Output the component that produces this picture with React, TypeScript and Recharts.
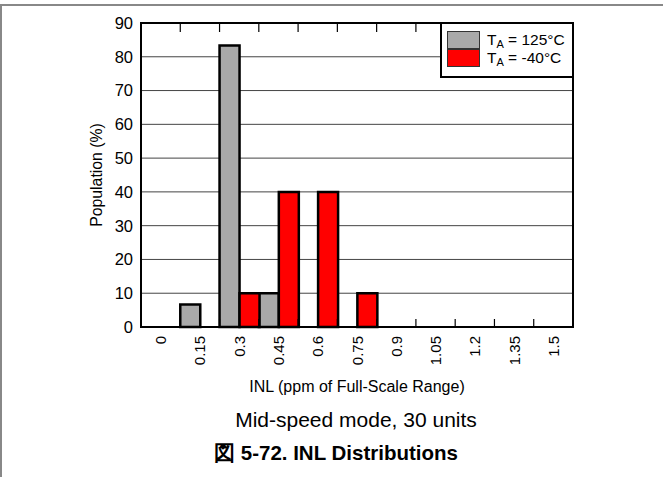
import { BarChart, Bar, XAxis, YAxis, CartesianGrid } from "recharts";

const bins = ["0", "0.15", "0.3", "0.45", "0.6", "0.75", "0.9", "1.05", "1.2", "1.35", "1.5"];
const hot125 = [0, 6.67, 83.33, 10, 0, 0, 0, 0, 0, 0, 0];
const cold40 = [0, 0, 10, 40, 40, 10, 0, 0, 0, 0, 0];
const yTicks = [0, 10, 20, 30, 40, 50, 60, 70, 80, 90];

const data = bins.map((bin, i) => ({ bin, hot: hot125[i], cold: cold40[i] }));

const font = "'Liberation Sans', Arial, sans-serif";

// bottom axis: rotated label + edge tick pointing up at left boundary of each bin
function BottomTick(props: any) {
  const { x, y, payload, index } = props;
  const half = payload.offset ?? 0;
  return (
    <g>
      {index > 0 && (
        <line x1={x - half} x2={x - half} y1={y - 8} y2={y - 16} stroke="#000" strokeWidth={1.2} />
      )}
      <text
        x={x}
        y={y + 1}
        transform={`rotate(-90, ${x}, ${y + 1})`}
        textAnchor="end"
        dominantBaseline="central"
        fontSize={15}
        fontFamily={font}
        fill="#000"
      >
        {payload.value}
      </text>
    </g>
  );
}

function TopTick(props: any) {
  const { x, y, payload, index } = props;
  const half = payload.offset ?? 0;
  if (index === 0) return <g />;
  return <line x1={x - half} x2={x - half} y1={y + 8} y2={y + 17} stroke="#000" strokeWidth={1.2} />;
}

function LegendBox() {
  const row = (fill: string, label: string) => (
    <div style={{ display: "flex", alignItems: "center", height: 18 }}>
      <div style={{ width: 33, height: 18, background: fill, border: "1px solid #333", boxSizing: "border-box" }} />
      <span style={{ marginLeft: 7, fontSize: 15.5, fontFamily: font, color: "#000", whiteSpace: "nowrap" }}>
        T<sub style={{ fontSize: 11, verticalAlign: "-3px" }}>A</sub> = {label}
      </span>
    </div>
  );
  return (
    <div
      style={{
        position: "absolute",
        left: 440,
        top: 22,
        border: "2.5px solid #000",
        background: "#fff",
        padding: "7px 0 7px 5px",
        width: 134,
        height: 56,
        boxSizing: "border-box",
      }}
    >
      {row("#a9a9a9", "125°C")}
      {row("#ff0000", "-40°C")}
    </div>
  );
}

export default function App() {
  return (
    <div style={{ position: "absolute", left: 0, top: 0, width: 663, height: 477, background: "#fff", fontFamily: font }}>
      <div style={{ position: "absolute", left: 0, top: 4, width: 663, height: 2, background: "#888" }} />
      <div style={{ position: "absolute", left: 0, top: 4, width: 2, height: 473, background: "#888" }} />
      <BarChart
        width={663}
        height={477}
        data={data}
        margin={{ top: 22, right: 90, bottom: 100, left: 81 }}
        barCategoryGap={0}
        barGap={0}
      >
        <CartesianGrid vertical={false} stroke="#444" strokeWidth={1} />
        <XAxis
          dataKey="bin"
          height={50}
          interval={0}
          axisLine={false}
          tickLine={false}
          tick={<BottomTick />}
        />
        <XAxis
          xAxisId="top"
          dataKey="bin"
          orientation="top"
          height={1}
          interval={0}
          axisLine={false}
          tickLine={false}
          tick={<TopTick />}
        />
        <YAxis
          width={60}
          domain={[0, 90]}
          ticks={yTicks}
          interval={0}
          axisLine={false}
          tickLine={false}
          tick={{ fontSize: 16.5, fill: "#000", fontFamily: font }}
        />
        <Bar dataKey="hot" name="TA = 125°C" fill="#a9a9a9" stroke="#000" strokeWidth={2.5} isAnimationActive={false} />
        <Bar dataKey="cold" name="TA = -40°C" fill="#ff0000" stroke="#000" strokeWidth={2.5} isAnimationActive={false} />
      </BarChart>
      {/* plot frame */}
      <div
        style={{
          position: "absolute",
          left: 140,
          top: 22,
          width: 434,
          height: 306,
          border: "2.5px solid #000",
          boxSizing: "border-box",
          pointerEvents: "none",
        }}
      />
      <LegendBox />
      <div
        style={{
          position: "absolute",
          left: 97,
          top: 175,
          transform: "translate(-50%, -50%) rotate(-90deg)",
          fontSize: 15.8,
          whiteSpace: "nowrap",
          color: "#000",
        }}
      >
        Population (%)
      </div>
      <div style={{ position: "absolute", left: 357, top: 387, transform: "translate(-50%, -50%)", whiteSpace: "nowrap", fontSize: 16, color: "#000" }}>
        INL (ppm of Full-Scale Range)
      </div>
      <div style={{ position: "absolute", left: 356, top: 420, transform: "translate(-50%, -50%)", whiteSpace: "nowrap", fontSize: 21, color: "#000" }}>
        Mid-speed mode, 30 units
      </div>
      <div
        style={{
          position: "absolute",
          left: 336,
          top: 453,
          transform: "translate(-50%, -50%)",
          whiteSpace: "nowrap",
          fontSize: 20.5,
          fontWeight: "bold",
          color: "#000",
        }}
      >
        図 5-72. INL Distributions
      </div>
    </div>
  );
}
